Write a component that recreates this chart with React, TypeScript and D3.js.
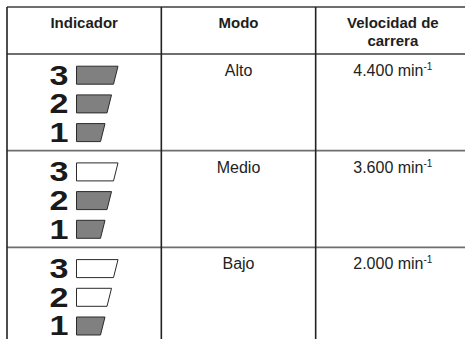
import React from "react";
import * as d3 from "d3";

// table content
const columns = ["Indicador", "Modo", "Velocidad de carrera"];
const headerLines = [["Indicador"], ["Modo"], ["Velocidad de", "carrera"]];
const modes = ["Alto", "Medio", "Bajo"];
const speeds = [4400, 3600, 2000];
const speedUnit = "min";
const speedExp = "-1";
const levels = [3, 2, 1];
const litSegments = [3, 2, 1]; // segments lit per mode

const W = 465;
const H = 339;
const TABLE_LEFT = 7;
const TABLE_RIGHT = 470;
const TABLE_TOP = 7;
const HEADER_BOTTOM = 54;
const ROW_H = 96.7;

const esFormat = d3.formatLocale({
  decimal: ",",
  thousands: ".",
  grouping: [3],
  currency: ["", ""],
}).format(",");

const FONT = "'Liberation Sans', Arial, Helvetica, sans-serif";

export default function App() {
  const x = d3.scaleBand<string>().domain(columns).range([TABLE_LEFT, TABLE_RIGHT]);
  const y = d3
    .scaleBand<string>()
    .domain(modes)
    .range([HEADER_BOTTOM, HEADER_BOTTOM + ROW_H * modes.length]);
  // position of the segment inside an indicator cell (3 on top)
  const seg = d3.scalePoint<number>().domain(levels).range([0, 57.4]);
  const segWidth = d3.scaleLinear().domain([1, 3]).range([28.5, 41.5]);

  const hLines = [TABLE_TOP, HEADER_BOTTOM, ...modes.slice(1).map((m) => y(m)!)];
  const vLines = [TABLE_LEFT, x(columns[1])!, x(columns[2])!];

  const segPath = (x0: number, y0: number, w: number) => {
    const h = 18;
    const slant = 4.5;
    const p = d3.path();
    p.moveTo(x0, y0);
    p.lineTo(x0 + w, y0);
    p.lineTo(x0 + w - slant, y0 + h);
    p.lineTo(x0, y0 + h);
    p.closePath();
    return p.toString();
  };

  return (
    <svg
      width={W}
      height={H}
      style={{ position: "absolute", left: 0, top: 0, background: "#fff" }}
      fontFamily={FONT}
    >
      {/* header */}
      {columns.map((c, i) => (
        <text
          key={c}
          x={x(c)! + x.bandwidth() / 2}
          textAnchor="middle"
          fontWeight="bold"
          fontSize={15}
          fill="#1e1e1e"
        >
          {headerLines[i].map((line, j) => (
            <tspan key={j} x={x(c)! + x.bandwidth() / 2} y={28 + j * 18}>
              {line}
            </tspan>
          ))}
        </text>
      ))}

      {modes.map((m, r) => {
        const top = y(m)!;
        const c0 = x(columns[0])!;
        return (
          <g key={m}>
            {levels.map((lv) => (
              <g key={lv}>
                <text
                  transform={`translate(${c0 + 52},${top + 30.6 + seg(lv)!}) scale(1.22,1)`}
                  textAnchor="middle"
                  fontWeight="bold"
                  fontSize={28}
                  fill="#1a1a1a"
                >
                  {lv}
                </text>
                <path
                  d={segPath(c0 + 69.5, top + 12.2 + seg(lv)!, segWidth(lv))}
                  fill={lv <= litSegments[r] ? "#808080" : "#fff"}
                  stroke="#2a2a2a"
                  strokeWidth={1}
                />
              </g>
            ))}
            <text
              x={x(columns[1])! + x.bandwidth() / 2}
              y={top + 22}
              textAnchor="middle"
              fontSize={16}
              fill="#222"
            >
              {m}
            </text>
            <text
              x={x(columns[2])! + x.bandwidth() / 2}
              y={top + 22}
              textAnchor="middle"
              fontSize={16}
              fill="#222"
            >
              {esFormat(speeds[r])} {speedUnit}
              <tspan fontSize={10} dy={-6}>
                {speedExp}
              </tspan>
            </text>
          </g>
        );
      })}

      {/* grid */}
      {hLines.map((v, i) => (
        <line
          key={"h" + i}
          x1={TABLE_LEFT}
          x2={TABLE_RIGHT}
          y1={v}
          y2={v}
          stroke="#6e6e6e"
          strokeWidth={1.8}
        />
      ))}
      {vLines.map((v, i) => (
        <line
          key={"v" + i}
          x1={v}
          x2={v}
          y1={TABLE_TOP}
          y2={H + 10}
          stroke="#222"
          strokeWidth={1.6}
        />
      ))}
    </svg>
  );
}
